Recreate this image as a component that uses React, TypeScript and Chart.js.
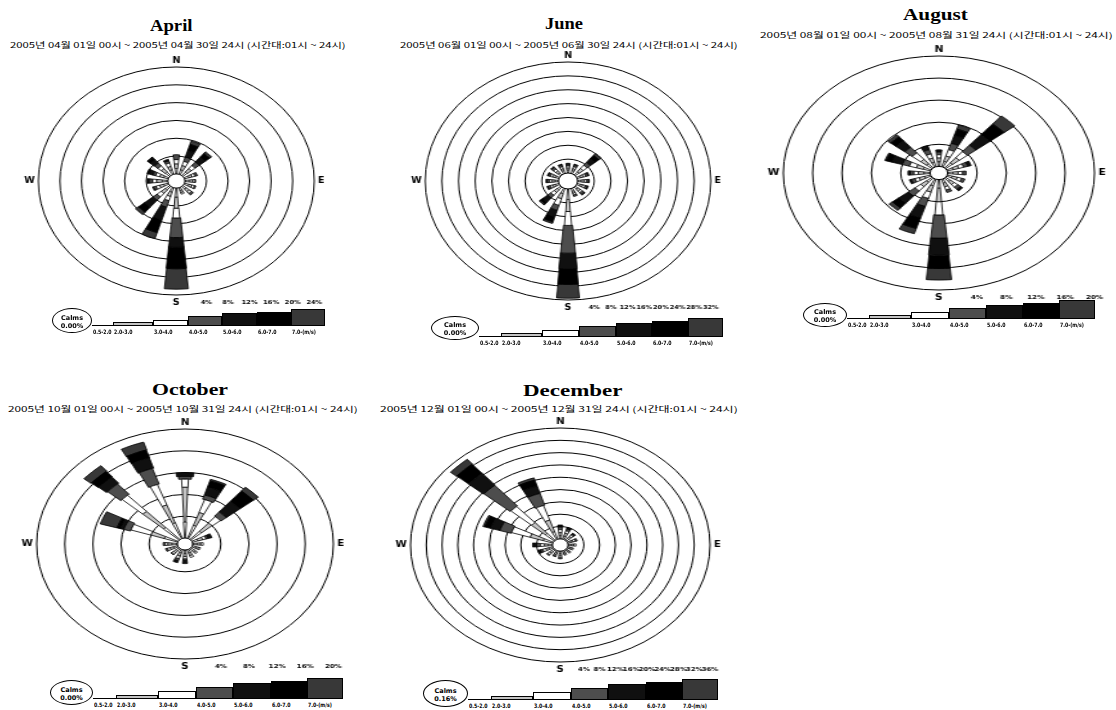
import React, { useEffect, useLayoutEffect, useRef, useState } from 'react';
import { Chart, registerables } from 'chart.js';
Chart.register(...registerables);

// ---------------- data ----------------
const directions = ['N', 'NNE', 'NE', 'ENE', 'E', 'ESE', 'SE', 'SSE', 'S', 'SSW', 'SW', 'WSW', 'W', 'WNW', 'NW', 'NNW'];
const speedBins = ['0.5-2.0', '2.0-3.0', '3.0-4.0', '4.0-5.0', '5.0-6.0', '6.0-7.0', '7.0-(m/s)'];

const aprilRings = [4, 8, 12, 16, 20, 24];
const juneRings = [4, 8, 12, 16, 20, 24, 28, 32];
const augustRings = [4, 8, 12, 16, 20];
const octoberRings = [4, 8, 12, 16, 20];
const decemberRings = [4, 8, 12, 16, 20, 24, 28, 32, 36];

// frequency (%) per direction (N..NNW) per speed bin
const aprilValues = [
  [1.2, 1.0, 1.0, 1.1, 0, 0, 0],
  [1.0, 1.0, 1.0, 1.0, 1.5, 1.5, 0.8],
  [1.0, 1.0, 0.9, 1.0, 1.5, 1.0, 0.5],
  [0.8, 0.6, 0.6, 0.5, 0, 0, 0],
  [0.8, 0.6, 0.4, 0.2, 0, 0, 0],
  [0.8, 0.6, 0.5, 0.3, 0, 0, 0],
  [0.8, 0.7, 0.5, 0.5, 0, 0, 0],
  [0.6, 0.5, 0.4, 0, 0, 0, 0],
  [2.0, 2.5, 2.2, 4.4, 2.2, 4.8, 4.6],
  [1.0, 1.0, 1.0, 1.5, 3.0, 3.0, 1.4],
  [1.0, 1.0, 1.0, 1.0, 2.0, 1.5, 0.7],
  [0.8, 0.8, 0.7, 0.5, 0.2, 0, 0],
  [1.0, 1.0, 0.8, 0.6, 0.4, 0, 0],
  [0.8, 0.8, 0.8, 0.5, 0.8, 0.4, 0],
  [1.0, 1.0, 0.8, 0.8, 1.0, 0.6, 0.2],
  [1.0, 0.8, 0.8, 0.5, 0.4, 0, 0],
];

const juneValues = [
  [0.8, 0.6, 0.6, 0.5, 0.3, 0, 0],
  [0.8, 0.6, 0.6, 0.5, 0.3, 0, 0],
  [1.2, 1.2, 1.2, 1.0, 1.5, 1.2, 0.7],
  [0.8, 0.7, 0.6, 0.6, 0.3, 0, 0],
  [0.8, 0.7, 0.6, 0.5, 0.2, 0, 0],
  [0.8, 0.6, 0.6, 0.5, 0.3, 0, 0],
  [0.8, 0.7, 0.6, 0.6, 0.3, 0, 0],
  [0.8, 0.6, 0.5, 0.5, 0, 0, 0],
  [3.0, 3.5, 4.0, 8.0, 4.5, 4.5, 4.0],
  [1.5, 1.5, 2.0, 1.5, 2.0, 1.5, 0.5],
  [1.0, 1.0, 1.0, 1.0, 1.5, 0.8, 0.4],
  [0.8, 0.7, 0.6, 0.6, 0.3, 0, 0],
  [0.8, 0.7, 0.6, 0.6, 0.3, 0, 0],
  [0.8, 0.7, 0.6, 0.5, 0.3, 0, 0],
  [0.8, 0.7, 0.7, 0.6, 0.3, 0, 0],
  [0.8, 0.6, 0.6, 0.5, 0.3, 0, 0],
];

const augustValues = [
  [0.8, 0.7, 0.6, 0.5, 0.4, 0, 0],
  [1.0, 1.0, 1.2, 1.2, 1.5, 1.2, 0.8],
  [1.2, 1.2, 1.4, 1.5, 2.5, 2.5, 1.9],
  [0.8, 0.8, 0.7, 0.6, 0.5, 0, 0],
  [0.7, 0.7, 0.6, 0.5, 0, 0, 0],
  [0.7, 0.7, 0.6, 0.5, 0, 0, 0],
  [0.8, 0.7, 0.6, 0.5, 0.4, 0, 0],
  [0.7, 0.7, 0.6, 0.5, 0, 0, 0],
  [1.5, 2.5, 2.4, 4.2, 3.1, 2.4, 2.1],
  [1.2, 1.2, 1.2, 1.5, 2.2, 2.0, 1.0],
  [1.0, 1.0, 1.0, 1.2, 1.6, 1.2, 0.6],
  [0.8, 0.8, 0.6, 0.5, 0.3, 0, 0],
  [0.8, 0.8, 0.6, 0.5, 0.3, 0, 0],
  [1.0, 1.0, 1.0, 1.0, 1.5, 0.8, 0.2],
  [1.0, 1.0, 1.5, 1.3, 1.5, 1.0, 0.5],
  [0.8, 0.8, 0.8, 0.8, 0.8, 0, 0],
];

const octoberValues = [
  [2.9, 6.4, 1.5, 0.5, 0.7, 0, 0],
  [2.5, 2.5, 2.5, 0.8, 1.5, 1.2, 0.3],
  [2.0, 2.0, 1.5, 1.0, 2.5, 2.5, 0.9],
  [0.8, 0.7, 0.5, 0.3, 0.6, 0, 0],
  [0.6, 0.5, 0.4, 0, 0, 0, 0],
  [0.5, 0.4, 0.3, 0, 0, 0, 0],
  [0.5, 0.4, 0.3, 0, 0, 0, 0],
  [0.6, 0.5, 0.4, 0, 0, 0, 0],
  [0.6, 0.6, 0.4, 0.3, 0.6, 0, 0],
  [0.6, 0.6, 0.5, 0.4, 0.4, 0, 0],
  [0.5, 0.5, 0.3, 0.2, 0, 0, 0],
  [0.6, 0.5, 0.4, 0.3, 0, 0, 0],
  [0.7, 0.6, 0.4, 0.3, 0, 0, 0],
  [2.0, 2.0, 3.0, 1.0, 0.5, 0.5, 2.5],
  [3.0, 4.0, 4.0, 2.5, 1.5, 1.3, 1.3],
  [3.0, 3.5, 4.0, 3.0, 2.0, 1.5, 1.5],
];

const decemberValues = [
  [1.0, 1.0, 1.0, 0.8, 0.7, 0, 0],
  [1.0, 1.0, 0.8, 0.6, 0.6, 0, 0],
  [0.8, 0.8, 0.6, 0.4, 0.4, 0, 0],
  [0.8, 0.6, 0.6, 0.5, 0, 0, 0],
  [0.8, 0.6, 0.6, 0, 0, 0, 0],
  [0.6, 0.5, 0.4, 0, 0, 0, 0],
  [0.6, 0.5, 0.4, 0, 0, 0, 0],
  [0.6, 0.5, 0.4, 0, 0, 0, 0],
  [0.8, 0.7, 0.6, 0.4, 0, 0, 0],
  [0.7, 0.6, 0.4, 0.3, 0, 0, 0],
  [0.8, 0.7, 0.6, 0.4, 0, 0, 0],
  [1.0, 0.8, 0.8, 0.6, 0.8, 0, 0],
  [1.0, 1.0, 1.0, 1.0, 0.6, 0.4, 0],
  [2.5, 3.5, 5.0, 3.0, 2.5, 1.5, 0.5],
  [3.0, 4.7, 7.0, 8.8, 5.0, 4.0, 2.0],
  [2.5, 4.0, 5.0, 4.0, 2.5, 2.0, 0.8],
];

const calmsText = ['0.00%', '0.00%', '0.00%', '0.00%', '0.16%'];
const monthTitles = ['April', 'June', 'August', 'October', 'December'];
const subtitles = [
  '2005년 04월 01일 00시 ~ 2005년 04월 30일 24시 (시간대:01시 ~ 24시)',
  '2005년 06월 01일 00시 ~ 2005년 06월 30일 24시 (시간대:01시 ~ 24시)',
  '2005년 08월 01일 00시 ~ 2005년 08월 31일 24시 (시간대:01시 ~ 24시)',
  '2005년 10월 01일 00시 ~ 2005년 10월 31일 24시 (시간대:01시 ~ 24시)',
  '2005년 12월 01일 00시 ~ 2005년 12월 31일 24시 (시간대:01시 ~ 24시)',
];

// ---------------- styles ----------------
const binColors = ['#ffffff', '#c4c4c4', '#ffffff', '#4d4d4d', '#101010', '#000000', '#383838'];
const binWidthPx = [1.5, 3, 5, 10, 14, 16, 18];
const maxBarAngle = 11;
const legendFr = [0, 0.09, 0.26, 0.41, 0.56, 0.71, 0.855, 1];
const legendH = [1.5, 4, 7, 11, 14, 16, 19];

const panels = [
  { values: aprilValues, rings: aprilRings, cx: 176, cy: 181, R: 114, sx: 1.21, calm: 1.6,
    title: { cx: 171, cy: 26, w: 42 }, sub: { cx: 177, cy: 43, w: 335 },
    leg: { ex: 52, ey: 308, ew: 40, eh: 25, bx0: 92, bx1: 325, by: 326, hs: 0.9 } },
  { values: juneValues, rings: juneRings, cx: 568, cy: 181, R: 119, sx: 1.2, calm: 2.3,
    title: { cx: 564, cy: 24, w: 38 }, sub: { cx: 568, cy: 43, w: 337 },
    leg: { ex: 431, ey: 316, ew: 48, eh: 24, bx0: 479, bx1: 723, by: 337, hs: 1 } },
  { values: augustValues, rings: augustRings, cx: 939, cy: 173, R: 117, sx: 1.33, calm: 1.2,
    title: { cx: 935, cy: 15, w: 65 }, sub: { cx: 936, cy: 33, w: 352 },
    leg: { ex: 803, ey: 303, ew: 44, eh: 24, bx0: 847, bx1: 1095, by: 319, hs: 1 } },
  { values: octoberValues, rings: octoberRings, cx: 185, cy: 544, R: 115, sx: 1.29, calm: 1.1,
    title: { cx: 190, cy: 390, w: 76 }, sub: { cx: 182, cy: 407, w: 349 },
    leg: { ex: 50, ey: 680, ew: 43, eh: 25, bx0: 93, bx1: 343, by: 699, hs: 1.12 } },
  { values: decemberValues, rings: decemberRings, cx: 560, cy: 545, R: 117, sx: 1.28, calm: 2.0,
    title: { cx: 572, cy: 391, w: 99 }, sub: { cx: 558, cy: 407, w: 357 },
    leg: { ex: 423, ey: 680, ew: 45, eh: 27, bx0: 468, bx1: 718, by: 700, hs: 1.12 } },
];

function FitText({ text, cx, cy, width, size, font, weight }: any) {
  const ref = useRef<HTMLSpanElement>(null);
  const [k, setK] = useState(1);
  useLayoutEffect(() => {
    if (ref.current) {
      const w = ref.current.offsetWidth;
      if (w > 0) setK(width / w);
    }
  }, [text, width]);
  return (
    <div style={{ position: 'absolute', left: cx - width / 2, top: cy - size / 2, height: size, lineHeight: `${size}px`, whiteSpace: 'nowrap' }}>
      <span ref={ref} style={{ display: 'inline-block', fontSize: size, fontFamily: font, fontWeight: weight, color: '#000', transform: `scaleX(${k})`, transformOrigin: '0 50%' }}>{text}</span>
    </div>
  );
}

const PAD = 16;

function Rose({ values, rings, calm, cx, cy, R, sx }: any) {
  const ref = useRef<HTMLCanvasElement>(null);
  const D = 2 * R + 2 * PAD;
  useEffect(() => {
    if (!ref.current) return;
    const labels: string[] = [];
    directions.forEach((d) => labels.push('', d, ''));
    const cumAt = (row: number[], b: number) => row.slice(0, b + 1).reduce((a, c) => a + c, 0);
    const datasets = speedBins.map((bin, b) => {
      const data: number[] = [];
      values.forEach((row: number[]) => data.push(0, cumAt(row, b), 0));
      return {
        label: bin,
        data,
        backgroundColor: (ctx: any) => (ctx.dataIndex % 3 === 1 ? binColors[b] : 'rgba(0,0,0,0)'),
        borderColor: '#000',
        borderWidth: (ctx: any) => (ctx.dataIndex % 3 === 1 && values[Math.floor(ctx.dataIndex / 3)][b] > 0 ? 0.8 : 0),
        angle: (ctx: any) => {
          const row = values[Math.floor(ctx.dataIndex / 3)];
          const top = cumAt(row, b);
          const base = top - row[b];
          const scale = ctx.chart.scales && ctx.chart.scales.r;
          let rMid = 20;
          if (scale && scale.drawingArea) rMid = Math.max(4, scale.getDistanceFromCenterForValue((base + top) / 2));
          let a = row[b] > 0 ? (2 * Math.atan(binWidthPx[b] / 2 / rMid) * 180) / Math.PI : 0.001;
          a = Math.min(a, maxBarAngle);
          return ctx.dataIndex % 3 === 1 ? a : (22.5 - a) / 2;
        },
      };
    });
    const stackPlugin = {
      id: 'stackRadius',
      afterDatasetsUpdate(chart: any) {
        const s = chart.scales.r;
        const r0 = s.getDistanceFromCenterForValue(0);
        for (let d = 0; d < chart.data.datasets.length; d++) {
          const meta = chart.getDatasetMeta(d);
          const prev = d > 0 ? chart.getDatasetMeta(d - 1) : null;
          meta.data.forEach((el: any, i: number) => {
            el.innerRadius = prev ? prev.data[i].outerRadius : r0;
          });
        }
      },
      afterDatasetsDraw(chart: any) {
        const s = chart.scales.r;
        const c = chart.ctx;
        const r0 = s.getDistanceFromCenterForValue(0);
        c.save();
        c.beginPath();
        c.arc(s.xCenter, s.yCenter, r0, 0, Math.PI * 2);
        c.fillStyle = '#fff';
        c.fill();
        c.lineWidth = 1;
        c.strokeStyle = '#000';
        c.stroke();
        c.restore();
      },
      afterDraw(chart: any) {
        const s = chart.scales.r;
        const c = chart.ctx;
        const xc = s.xCenter, yc = s.yCenter, rr = s.drawingArea;
        c.save();
        c.fillStyle = '#000';
        c.font = 'bold 8px "DejaVu Sans"';
        c.textBaseline = 'middle';
        c.textAlign = 'center';
        c.fillText('N', xc, yc - rr - 6);
        c.fillText('S', xc, yc + rr + 8);
        c.textAlign = 'left';
        c.fillText('E', xc + rr + 3, yc);
        c.textAlign = 'right';
        c.fillText('W', xc - rr - 3, yc);
        c.textAlign = 'center';
        c.font = 'bold 5.5px "DejaVu Sans"';
        rings.forEach((v: number) => c.fillText(v + '%', xc + s.getDistanceFromCenterForValue(v), yc + rr + 8));
        c.restore();
      },
    };
    const chart = new Chart(ref.current, {
      type: 'polarArea',
      data: { labels, datasets: datasets as any },
      options: {
        responsive: false,
        maintainAspectRatio: false,
        devicePixelRatio: 1,
        animation: false,
        events: [],
        layout: { padding: PAD },
        plugins: { legend: { display: false }, tooltip: { enabled: false } },
        scales: {
          r: {
            min: -calm,
            max: rings[rings.length - 1],
            beginAtZero: false,
            startAngle: -11.25,
            ticks: { display: false },
            grid: { color: '#000', lineWidth: 1, circular: true },
            angleLines: { display: false },
            pointLabels: { display: false },
            afterBuildTicks: (scale: any) => {
              scale.ticks = rings.map((v: number) => ({ value: v }));
            },
          },
        },
      } as any,
      plugins: [stackPlugin],
    });
    return () => chart.destroy();
  }, [values, rings, calm, R]);
  return (
    <div style={{ position: 'absolute', left: cx - sx * (R + PAD), top: cy - (R + PAD), width: D, height: D, transform: `scaleX(${sx})`, transformOrigin: '0 0' }}>
      <canvas ref={ref} width={D} height={D} style={{ width: D, height: D, display: 'block' }} />
    </div>
  );
}

function Legend({ leg, calm }: any) {
  const { ex, ey, ew, eh, bx0, bx1, by, hs } = leg;
  const L = bx1 - bx0;
  return (
    <>
      <div style={{ position: 'absolute', left: ex, top: ey, width: ew, height: eh, border: '1px solid #000', borderRadius: '50%', boxSizing: 'border-box', background: '#fff', fontFamily: '"DejaVu Sans"', fontSize: 6.5, fontWeight: 'bold', lineHeight: '8px', textAlign: 'center', paddingTop: eh / 2 - 8 }}>
        <div>Calms</div>
        <div>{calm}</div>
      </div>
      {speedBins.map((lab, b) => {
        const x0 = bx0 + legendFr[b] * L;
        const x1 = bx0 + legendFr[b + 1] * L;
        const h = legendH[b] * hs;
        return (
          <React.Fragment key={lab}>
            <div style={{ position: 'absolute', left: x0, top: by - h, width: x1 - x0, height: h, background: binColors[b], border: b === 0 ? 'none' : '1px solid #000', borderBottom: '1px solid #000', boxSizing: 'border-box' }} />
            <div style={{ position: 'absolute', left: x0 + 1, top: by + 2, fontFamily: '"DejaVu Sans"', fontSize: 6, fontWeight: 'bold', whiteSpace: 'nowrap', color: '#000', lineHeight: '8px', transform: 'scaleX(0.78)', transformOrigin: '0 0' }}>{lab}</div>
          </React.Fragment>
        );
      })}
    </>
  );
}

export default function App() {
  return (
    <div style={{ position: 'absolute', left: 0, top: 0, width: 1116, height: 710, background: '#fff', overflow: 'hidden' }}>
      {panels.map((p, i) => (
        <React.Fragment key={monthTitles[i]}>
          <FitText text={monthTitles[i]} cx={p.title.cx} cy={p.title.cy} width={p.title.w} size={16} font={'"Liberation Serif", serif'} weight="bold" />
          <FitText text={subtitles[i]} cx={p.sub.cx} cy={p.sub.cy} width={p.sub.w} size={8} font={'"Noto Sans CJK KR", sans-serif'} weight="normal" />
          <Rose values={p.values} rings={p.rings} calm={p.calm} cx={p.cx} cy={p.cy} R={p.R} sx={p.sx} />
          <Legend leg={p.leg} calm={calmsText[i]} />
        </React.Fragment>
      ))}
    </div>
  );
}
